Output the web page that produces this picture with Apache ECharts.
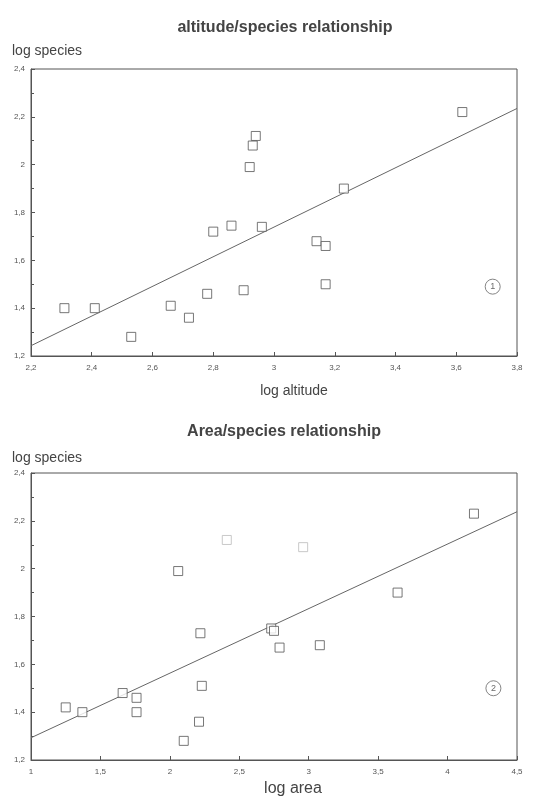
<!DOCTYPE html>
<html><head><meta charset="utf-8">
<script src="https://cdn.jsdelivr.net/npm/echarts@6/dist/echarts.min.js"></script>
<style>html,body{margin:0;padding:0;background:#fff}#c{width:556px;height:802px}</style>
</head><body><div id="c"></div>
<script>
// Chart 1: altitude / species
const altX = [2.31, 2.41, 2.53, 2.66, 2.72, 2.78, 2.80, 2.86, 2.96, 2.90, 3.14, 3.17, 3.17, 3.62, 2.94, 2.93, 2.92, 3.23];
const altY = [1.40, 1.40, 1.28, 1.41, 1.36, 1.46, 1.72, 1.745, 1.74, 1.475, 1.68, 1.66, 1.50, 2.22, 2.12, 2.08, 1.99, 1.90];
const altFitX = [2.2, 3.8];
const altFitY = [1.243, 2.235];
const altXTicks = {min: 2.2, max: 3.8, step: 0.2};
// Chart 2: area / species
const areaX = [4.19, 2.06, 3.64, 2.22, 2.73, 2.75, 2.79, 3.08, 1.25, 1.37, 1.66, 1.76, 1.76, 2.23, 2.21, 2.10];
const areaY = [2.23, 1.99, 1.90, 1.73, 1.75, 1.74, 1.67, 1.68, 1.42, 1.40, 1.48, 1.46, 1.40, 1.51, 1.36, 1.28];
const areaFaintX = [2.41, 2.96];
const areaFaintY = [2.12, 2.09];
const areaFitX = [1, 4.5];
const areaFitY = [1.293, 2.238];
const areaXTicks = {min: 1, max: 4.5, step: 0.5};
const speciesTicks = {min: 1.2, max: 2.4, step: 0.2};
// panel markers
const markerX = [3.72, 4.33];
const markerY = [1.49, 1.50];
const markerText = ['1', '2'];

const zip = (a, b) => a.map((v, i) => [v, b[i]]);
const fmt = v => String(+v.toFixed(2)).replace('.', ',');
const ink = '#555';
const font = 'Liberation Sans, Arial, sans-serif';

function xAx(idx, t) {
  return {
    gridIndex: idx, type: 'value', min: t.min, max: t.max, interval: t.step,
    axisLine: {lineStyle: {color: ink}}, splitLine: {show: false},
    axisTick: {inside: true, length: 4, lineStyle: {color: ink}},
    axisLabel: {formatter: fmt, fontSize: 8, color: '#555', margin: 8, fontFamily: font}
  };
}
function yAx(idx) {
  return {
    gridIndex: idx, type: 'value', min: speciesTicks.min, max: speciesTicks.max, interval: speciesTicks.step,
    axisLine: {show: true, lineStyle: {color: ink}}, splitLine: {show: false},
    axisTick: {show: true, inside: true, length: 4, lineStyle: {color: ink}},
    minorTick: {show: true, splitNumber: 2, length: 3, lineStyle: {color: ink}},
    axisLabel: {formatter: fmt, fontSize: 8, color: '#555', margin: 6, fontFamily: font}
  };
}
const sq = {type: 'scatter', symbol: 'rect', symbolSize: 9,
  itemStyle: {color: '#fff', borderColor: '#555', borderWidth: 1}, z: 3};
const fit = {type: 'line', symbol: 'none', lineStyle: {color: '#666', width: 1}, z: 2, silent: true};
const mark = {type: 'scatter', symbol: 'circle', symbolSize: 15,
  itemStyle: {color: '#fff', borderColor: '#666', borderWidth: 1},
  label: {show: true, position: 'inside', color: '#444', fontSize: 9, fontFamily: font}};

const chart = echarts.init(document.getElementById('c'), null, {renderer: 'canvas'});
chart.setOption({
  animation: false,
  backgroundColor: '#fff',
  title: [
    {text: 'altitude/species relationship', left: 280, top: 15, textAlign: 'center',
      textStyle: {fontSize: 16, fontWeight: 'bold', color: '#444', fontFamily: font}},
    {text: 'log species', left: 7, top: 39, textStyle: {fontSize: 14, fontWeight: 'normal', color: '#444', fontFamily: font}},
    {text: 'log altitude', left: 289, top: 379, textAlign: 'center',
      textStyle: {fontSize: 14, fontWeight: 'normal', color: '#444', fontFamily: font}},
    {text: 'Area/species relationship', left: 279, top: 419, textAlign: 'center',
      textStyle: {fontSize: 16, fontWeight: 'bold', color: '#444', fontFamily: font}},
    {text: 'log species', left: 7, top: 446, textStyle: {fontSize: 14, fontWeight: 'normal', color: '#444', fontFamily: font}},
    {text: 'log area', left: 288, top: 776, textAlign: 'center',
      textStyle: {fontSize: 16, fontWeight: 'normal', color: '#444', fontFamily: font}}
  ],
  grid: [
    {left: 31, top: 69, width: 486, height: 287, show: true, borderColor: ink, borderWidth: 1, backgroundColor: 'transparent'},
    {left: 31, top: 473, width: 486, height: 287, show: true, borderColor: ink, borderWidth: 1, backgroundColor: 'transparent'}
  ],
  xAxis: [xAx(0, altXTicks), xAx(1, areaXTicks)],
  yAxis: [yAx(0), yAx(1)],
  series: [
    Object.assign({}, fit, {xAxisIndex: 0, yAxisIndex: 0, data: zip(altFitX, altFitY)}),
    Object.assign({}, sq, {xAxisIndex: 0, yAxisIndex: 0, data: zip(altX, altY)}),
    Object.assign({}, mark, {xAxisIndex: 0, yAxisIndex: 0, data: [[markerX[0], markerY[0]]],
      label: Object.assign({}, mark.label, {formatter: markerText[0]})}),
    Object.assign({}, fit, {xAxisIndex: 1, yAxisIndex: 1, data: zip(areaFitX, areaFitY)}),
    Object.assign({}, sq, {xAxisIndex: 1, yAxisIndex: 1, data: zip(areaX, areaY)}),
    Object.assign({}, sq, {xAxisIndex: 1, yAxisIndex: 1, data: zip(areaFaintX, areaFaintY),
      itemStyle: {color: '#fff', borderColor: '#bbb', borderWidth: 1}}),
    Object.assign({}, mark, {xAxisIndex: 1, yAxisIndex: 1, data: [[markerX[1], markerY[1]]],
      label: Object.assign({}, mark.label, {formatter: markerText[1]})})
  ]
});
</script>
</body></html>
